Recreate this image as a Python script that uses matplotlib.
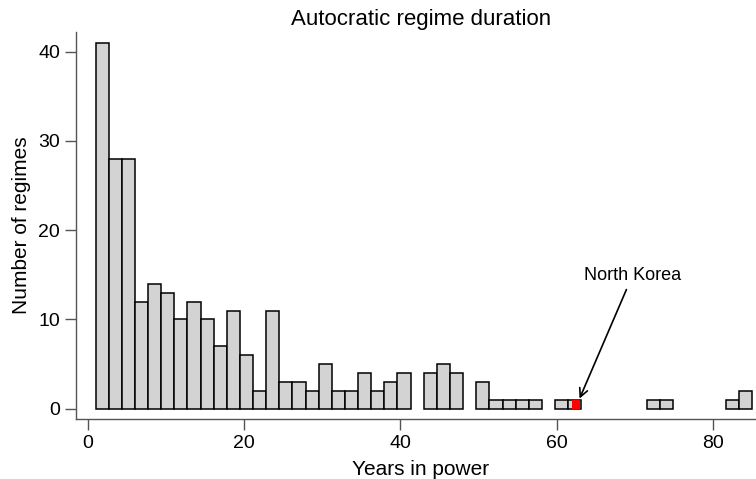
import matplotlib.pyplot as plt
import numpy as np

plt.rcParams['font.family'] = ['Liberation Sans', 'DejaVu Sans']

# histogram of regime durations: 50 bins from 1 to 85 years
bin_start = 1.0
bin_end = 85.0
counts = [41, 28, 28, 12, 14, 13, 10, 12, 10, 7,
          11, 6, 2, 11, 3, 3, 2, 5, 2, 2,
          4, 2, 3, 4, 0, 4, 5, 4, 0, 3,
          1, 1, 1, 1, 0, 1, 1, 0, 0, 0,
          0, 0, 1, 1, 0, 0, 0, 0, 1, 2]

# North Korea highlight
nk_years = 62
nk_count = 1

edges = np.linspace(bin_start, bin_end, len(counts) + 1)
width = edges[1] - edges[0]

fig = plt.figure(figsize=(7.56, 4.79), dpi=100)
ax = fig.add_axes([76 / 756, 1 - 419 / 479, 690 / 756, 387 / 479])

mask = np.array(counts) > 0
ax.bar(edges[:-1][mask], np.array(counts)[mask], width=width, align='edge',
       color='#d3d3d3', edgecolor='black', linewidth=1.1, clip_on=False)
ax.bar(nk_years, nk_count, width=1.05, align='edge', color='#ff0000',
       edgecolor='none', zorder=3, clip_on=False)

ax.annotate('North Korea', xy=(62.8, 0.85), xytext=(69.7, 14.9),
            ha='center', va='center', fontsize=13,
            arrowprops=dict(arrowstyle='->', color='black', lw=1.2,
                            mutation_scale=15))

ax.set_xlim(-1.5, 86.8)
ax.set_ylim(-1.15, 42.2)
ax.set_xticks([0, 20, 40, 60, 80])
ax.set_yticks([0, 10, 20, 30, 40])
ax.spines['top'].set_visible(False)
ax.spines['right'].set_visible(False)
for s in ['left', 'bottom']:
    ax.spines[s].set_color('#555555')
    ax.spines[s].set_linewidth(1.0)
ax.tick_params(axis='both', labelsize=14, length=8, color='#555555', width=1.0)

ax.set_xlabel('Years in power', fontsize=15, labelpad=6)
ax.set_ylabel('Number of regimes', fontsize=15, labelpad=5)
ax.set_title('Autocratic regime duration', fontsize=16, pad=5)

plt.savefig('out.png', dpi=100)
